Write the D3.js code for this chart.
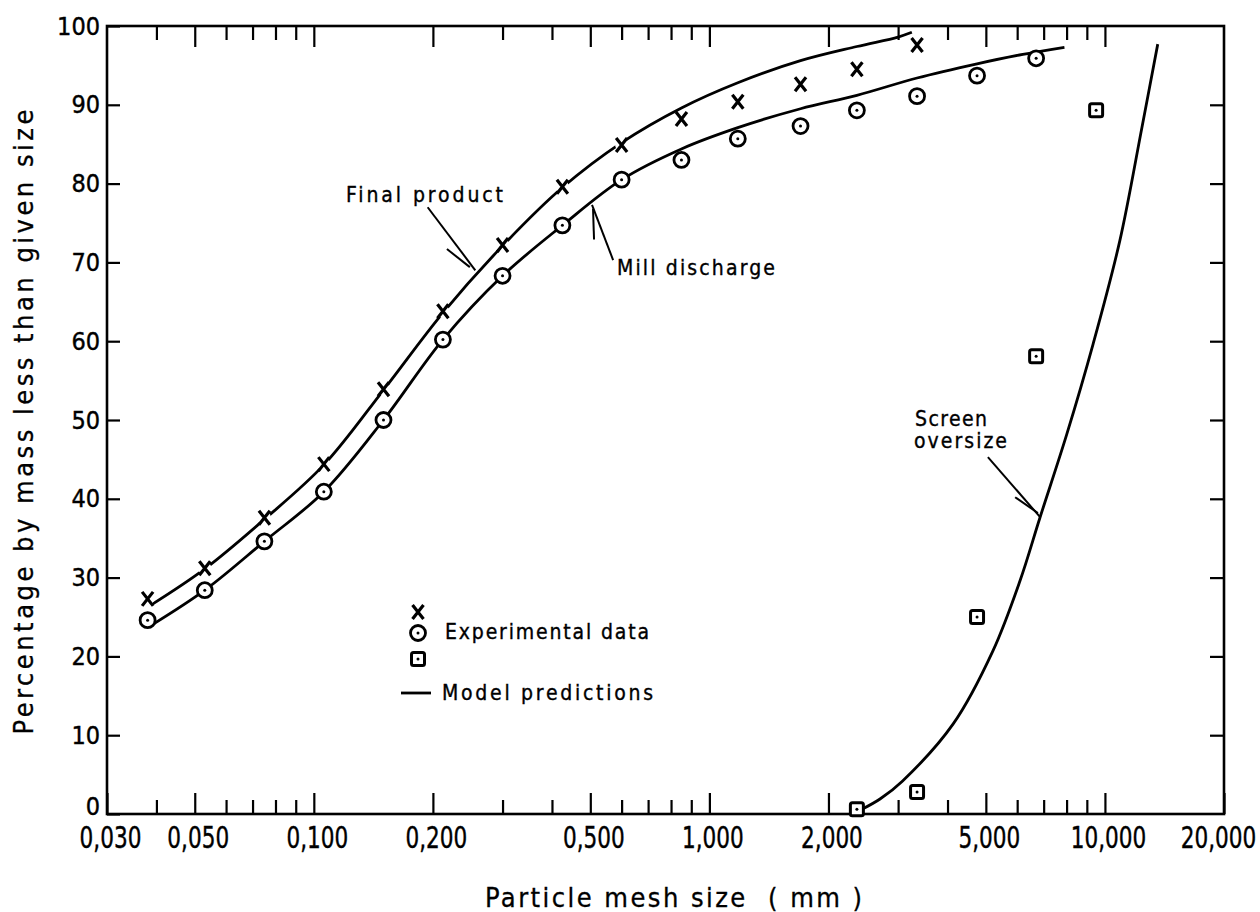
<!DOCTYPE html>
<html lang="en">
<head>
<meta charset="UTF-8">
<title>Particle size distribution</title>
<script src="https://d3js.org/d3.v7.min.js"></script>
<style>
  body { margin: 0; background: #fff; }
  svg { display: block; font-family: "DejaVu Sans Condensed", "DejaVu Sans", sans-serif; }
  .frame { fill: none; stroke: #000; stroke-width: 2.6px; }
  .tick line { stroke: #000; stroke-width: 2.2px; }
  .tick text { stroke: #000; stroke-width: 0.4px; }
  .domain { display: none; }
  .model { fill: none; stroke: #000; stroke-width: 2.8px; }
  .leader { stroke: #000; stroke-width: 2px; }
  .note { font-size: 21px; fill: #000; stroke: #000; stroke-width: 0.35px; }
  .title { fill: #000; stroke: #000; stroke-width: 0.3px; }
</style>
</head>
<body>
<div id="chart"></div>
<script>
// Experimental data: Final product (crosses)
const crossSizes = [0.038, 0.053, 0.075, 0.106, 0.150, 0.212, 0.300, 0.425, 0.600, 0.850, 1.18, 1.70, 2.36, 3.35];
const crossPct   = [27.3, 31.2, 37.6, 44.4, 53.9, 63.8, 72.2, 79.6, 84.9, 88.2, 90.4, 92.6, 94.5, 97.6];

// Experimental data: Mill discharge (circles)
const circleSizes = [0.038, 0.053, 0.075, 0.106, 0.150, 0.212, 0.300, 0.425, 0.600, 0.850, 1.18, 1.70, 2.36, 3.35, 4.75, 6.70];
const circlePct   = [24.6, 28.4, 34.6, 40.9, 50.0, 60.2, 68.3, 74.7, 80.5, 83.0, 85.7, 87.3, 89.3, 91.1, 93.7, 95.9];

// Experimental data: Screen oversize (squares)
const squareSizes = [2.36, 3.35, 4.75, 6.70, 9.50];
const squarePct   = [0.6, 2.8, 25.0, 58.1, 89.3];

// Model predictions
const finalModelSizes = [0.039, 0.053, 0.075, 0.106, 0.150, 0.212, 0.300, 0.425, 0.600, 0.850, 1.18, 1.70, 2.36, 3.00, 3.25];
const finalModelPct   = [26.6, 31.1, 37.4, 44.3, 53.8, 63.6, 72.1, 79.5, 85.2, 89.6, 92.8, 95.6, 97.4, 98.6, 99.2];

const millModelSizes = [0.039, 0.053, 0.075, 0.106, 0.150, 0.212, 0.300, 0.425, 0.600, 0.850, 1.18, 1.70, 2.36, 3.35, 4.75, 6.20, 7.90];
const millModelPct   = [24.0, 28.4, 34.6, 40.9, 50.0, 60.2, 68.3, 74.7, 80.5, 84.4, 87.1, 89.5, 91.2, 93.4, 95.2, 96.4, 97.3];

const screenModelSizes = [2.43, 2.70, 3.08, 4.13, 5.21, 6.10, 6.85, 8.01, 9.33, 10.9, 12.4, 13.6];
const screenModelPct   = [0.6, 1.9, 4.2, 11.4, 20.7, 29.6, 37.6, 48.2, 59.6, 72.7, 87.1, 97.7];

// Axis ticks
const xMajorTicks  = [0.03, 0.05, 0.1, 0.2, 0.5, 1, 2, 5, 10, 20];
const xMajorLabels = ["0,030", "0,050", "0,100", "0,200", "0,500", "1,000", "2,000", "5,000", "10,000", "20,000"];
const xMinorTicks  = [0.04, 0.06, 0.07, 0.08, 0.09, 0.3, 0.4, 0.6, 0.7, 0.8, 0.9, 3, 4, 6, 7, 8, 9];
const yTicks       = [0, 10, 20, 30, 40, 50, 60, 70, 80, 90, 100];

// Leader lines [from size, from pct, to size, to pct]
const leaders = [
  [0.194, 77.0, 0.256, 69.0], [0.217, 71.7, 0.248, 69.4],   // Final product
  [0.571, 70.3, 0.505, 77.3], [0.508, 76.8, 0.511, 72.9],   // Mill discharge
  [5.06, 45.3, 6.85, 37.7],   [5.93, 40.2, 6.77, 38.2]      // Screen oversize
];

// Layout
const W = 1260, H = 912;
const plot = { left: 107, right: 1224, top: 26, bottom: 814 };

const svg = d3.select("#chart").append("svg")
  .attr("width", W).attr("height", H);

const x = d3.scaleLog().domain([0.03, 20]).range([plot.left, plot.right]);
const y = d3.scaleLinear().domain([0, 100]).range([plot.bottom, plot.top]);

// Frame
svg.append("rect").attr("class", "frame")
  .attr("x", plot.left).attr("y", plot.top)
  .attr("width", plot.right - plot.left).attr("height", plot.bottom - plot.top);

// Bottom axis (major with labels, minor without)
const bx = svg.append("g")
  .attr("transform", `translate(0,${plot.bottom})`)
  .call(d3.axisBottom(x).tickValues(xMajorTicks).tickSize(-21).tickSizeOuter(0)
    .tickPadding(13).tickFormat((d, i) => xMajorLabels[i]))
  .attr("font-family", null).attr("font-size", 30);
bx.selectAll("text")
  .attr("transform", (d, i) => i === xMajorTicks.length - 1 ? "translate(-6,0) scale(0.8,1)" : "translate(3,0) scale(0.8,1)");

svg.append("g")
  .attr("transform", `translate(0,${plot.bottom})`)
  .call(d3.axisBottom(x).tickValues(xMinorTicks).tickSize(-14).tickSizeOuter(0).tickFormat(""));

// Top axis
svg.append("g")
  .attr("transform", `translate(0,${plot.top})`)
  .call(d3.axisTop(x).tickValues(xMajorTicks.slice(1, -1)).tickSize(-21).tickSizeOuter(0).tickFormat(""));
svg.append("g")
  .attr("transform", `translate(0,${plot.top})`)
  .call(d3.axisTop(x).tickValues(xMinorTicks).tickSize(-14).tickSizeOuter(0).tickFormat(""));

// Left & right axes
const ly = svg.append("g")
  .attr("transform", `translate(${plot.left},0)`)
  .call(d3.axisLeft(y).tickValues(yTicks).tickSize(-13).tickSizeOuter(0).tickPadding(7))
  .attr("font-family", null).attr("font-size", 25);
ly.selectAll("text").filter(d => d === 0).attr("dy", "0.0em");

svg.append("g")
  .attr("transform", `translate(${plot.right},0)`)
  .call(d3.axisRight(y).tickValues(yTicks.slice(1, -1)).tickSize(-14).tickSizeOuter(0).tickFormat(""));

// Axis titles
svg.append("text").attr("class", "title")
  .attr("x", 485).attr("y", 907)
  .attr("font-size", 27)
  .attr("textLength", 377).attr("lengthAdjust", "spacing")
  .style("white-space", "pre")
  .text("Particle mesh size  ( mm )");

svg.append("text").attr("class", "title")
  .attr("transform", "translate(33,422) rotate(-90)")
  .attr("text-anchor", "middle")
  .attr("font-size", 27)
  .attr("textLength", 625).attr("lengthAdjust", "spacing")
  .text("Percentage by mass less than given size");

// Model lines
const line = d3.line()
  .x(d => x(d[0])).y(d => y(d[1]))
  .curve(d3.curveCatmullRom.alpha(0.5));

[[finalModelSizes, finalModelPct], [millModelSizes, millModelPct], [screenModelSizes, screenModelPct]]
  .forEach(([s, p]) => {
    svg.append("path").attr("class", "model")
      .attr("d", line(s.map((v, i) => [v, p[i]])));
  });

// Leader lines
svg.selectAll(".leader").data(leaders).join("line")
  .attr("class", "leader")
  .attr("x1", d => x(d[0])).attr("y1", d => y(d[1]))
  .attr("x2", d => x(d[2])).attr("y2", d => y(d[3]));

// Markers
function drawCross(g, cx, cy, halo) {
  if (halo) g.append("circle").attr("cx", cx).attr("cy", cy).attr("r", 6.5).attr("fill", "#fff");
  g.append("path")
    .attr("d", `M${cx - 5.5},${cy - 7}L${cx + 5.5},${cy + 7}M${cx - 5.5},${cy + 7}L${cx + 5.5},${cy - 7}`)
    .attr("stroke", "#000").attr("stroke-width", 3.2).attr("fill", "none");
}
function drawCircle(g, cx, cy) {
  g.append("circle").attr("cx", cx).attr("cy", cy).attr("r", 7.5)
    .attr("fill", "#fff").attr("stroke", "#000").attr("stroke-width", 2.8);
  g.append("circle").attr("cx", cx).attr("cy", cy).attr("r", 1.5).attr("fill", "#000");
}
function drawSquare(g, cx, cy) {
  g.append("rect").attr("x", cx - 6.5).attr("y", cy - 6.5).attr("width", 13).attr("height", 13)
    .attr("rx", 2).attr("fill", "#fff").attr("stroke", "#000").attr("stroke-width", 3);
  g.append("circle").attr("cx", cx).attr("cy", cy).attr("r", 1.5).attr("fill", "#000");
}

const marks = svg.append("g");
crossSizes.forEach((s, i) => drawCross(marks, x(s), y(crossPct[i]), true));
circleSizes.forEach((s, i) => drawCircle(marks, x(s), y(circlePct[i])));
squareSizes.forEach((s, i) => drawSquare(marks, x(s), y(squarePct[i])));

// Curve labels
svg.append("text").attr("class", "note").attr("x", 346).attr("y", 202)
  .attr("textLength", 157).attr("lengthAdjust", "spacing").text("Final product");
svg.append("text").attr("class", "note").attr("x", 617).attr("y", 275)
  .attr("textLength", 158).attr("lengthAdjust", "spacing").text("Mill discharge");
svg.append("text").attr("class", "note").attr("x", 915).attr("y", 426)
  .attr("textLength", 72).attr("lengthAdjust", "spacing").text("Screen");
svg.append("text").attr("class", "note").attr("x", 914).attr("y", 448)
  .attr("textLength", 93).attr("lengthAdjust", "spacing").text("oversize");

// Legend
const lg = svg.append("g");
drawCross(lg, 418, 612, false);
drawCircle(lg, 418, 633);
drawSquare(lg, 418, 659);
lg.append("line").attr("x1", 401).attr("x2", 431).attr("y1", 693).attr("y2", 693)
  .attr("stroke", "#000").attr("stroke-width", 2.8);
lg.append("text").attr("class", "note").attr("x", 445).attr("y", 639)
  .attr("textLength", 204).attr("lengthAdjust", "spacing").text("Experimental data");
lg.append("text").attr("class", "note").attr("x", 442).attr("y", 700)
  .attr("textLength", 211).attr("lengthAdjust", "spacing").text("Model predictions");
</script>
</body>
</html>
